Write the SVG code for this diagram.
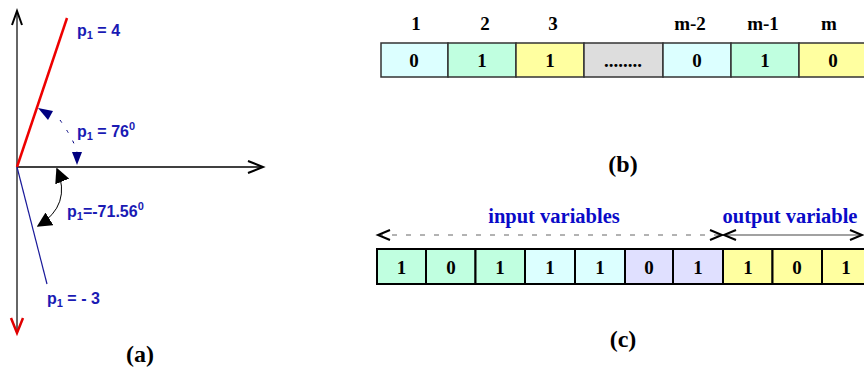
<svg xmlns="http://www.w3.org/2000/svg" width="864" height="369" viewBox="0 0 864 369">
<style>
.lbl{font-family:"Liberation Sans",Arial,sans-serif;font-weight:bold;font-size:16px;fill:#1a1ab4}
.sub{font-size:11px}
.cap{font-family:"Liberation Serif","Times New Roman",serif;font-weight:bold;font-size:24px;fill:#000;text-anchor:middle}
.num{font-family:"Liberation Serif","Times New Roman",serif;font-weight:bold;font-size:19px;fill:#000;text-anchor:middle}
.var{font-family:"Liberation Serif","Times New Roman",serif;font-weight:bold;font-size:20.5px;fill:#0a0ac8;text-anchor:middle}
.cb{stroke:#333;stroke-width:1.5}
.cc{stroke:#000;stroke-width:2}
.cyan{fill:#dcffff}.mint{fill:#c0ffe0}.yel{fill:#ffffa0}.gray{fill:#dddddd}.lav{fill:#e0e0ff}
.chev{fill:none;stroke:#000;stroke-width:2}
</style>
<defs>
<marker id="blk" viewBox="0 0 10 10" refX="9" refY="5" markerWidth="15" markerHeight="15" markerUnits="userSpaceOnUse" orient="auto-start-reverse"><path d="M0,0 L10,5 L0,10 z" fill="#000"/></marker>
</defs>

<g id="connectors">
<line x1="17" y1="12" x2="17" y2="332" stroke="#333" stroke-width="1.5"/>
<path class="chev" d="M12,25 L17,11 L22,25"/>
<path d="M11,318 L17,333 L23,318" fill="none" stroke="#e00000" stroke-width="2.5"/>
<line x1="17" y1="167" x2="263" y2="167" stroke="#000" stroke-width="1.5"/>
<path class="chev" d="M248,161 L263,167 L248,173"/>
<line x1="17" y1="167" x2="67" y2="18" stroke="#ee0000" stroke-width="2.5"/>
<line x1="17" y1="167" x2="47" y2="284" stroke="#1a1a9a" stroke-width="1.2"/>
<path d="M60,120 Q74,140 77,152" fill="none" stroke="#000080" stroke-width="1" stroke-dasharray="3,9"/>
<path d="M38,108 L53,111 L48,120 z" fill="#000080"/>
<path d="M72,152 L82,152 L77,165 z" fill="#000080"/>
<path d="M57,169 Q72,205 38,226" fill="none" stroke="#000" stroke-width="1" marker-start="url(#blk)" marker-end="url(#blk)"/>
<line x1="378" y1="235" x2="722" y2="235" stroke="#666" stroke-width="1" stroke-dasharray="5,9"/>
<path class="chev" d="M390,230 L378,235 L390,240"/>
<path class="chev" d="M710,230 L722,235 L710,240"/>
<line x1="724" y1="235" x2="862" y2="235" stroke="#444" stroke-width="1.2"/>
<path class="chev" d="M736,230 L724,235 L736,240"/>
<path class="chev" d="M850,230 L862,235 L850,240"/>
</g>

<g id="labels-a">
<text class="lbl" x="77" y="36">p<tspan class="sub" dy="3">1</tspan><tspan dy="-3"> = 4</tspan></text>
<text class="lbl" x="77" y="137">p<tspan class="sub" dy="3">1</tspan><tspan dy="-3"> = 76</tspan><tspan class="sub" dy="-7">0</tspan></text>
<text class="lbl" x="67" y="217">p<tspan class="sub" dy="3">1</tspan><tspan dy="-3">=-71.56</tspan><tspan class="sub" dy="-7">0</tspan></text>
<text class="lbl" x="47" y="304">p<tspan class="sub" dy="3">1</tspan><tspan dy="-3"> = - 3</tspan></text>
<text class="cap" x="140" y="362">(a)</text>
</g>

<g id="chromosome-b">
<g class="num">
<text x="416" y="30">1</text><text x="485" y="30">2</text><text x="553" y="30">3</text>
<text x="690" y="30">m-2</text><text x="763" y="30">m-1</text><text x="829" y="30">m</text>
</g>
<g id="b1"><rect class="cb cyan" x="381" y="43" width="67" height="34"/><text class="num" x="414" y="67">0</text></g>
<g id="b2"><rect class="cb mint" x="448" y="43" width="68" height="34"/><text class="num" x="482" y="67">1</text></g>
<g id="b3"><rect class="cb yel" x="516" y="43" width="68" height="34"/><text class="num" x="550" y="67">1</text></g>
<g id="b4"><rect class="cb gray" x="584" y="43" width="79" height="34"/><text class="num" x="623" y="67">........</text></g>
<g id="b5"><rect class="cb cyan" x="663" y="43" width="68" height="34"/><text class="num" x="697" y="67">0</text></g>
<g id="b6"><rect class="cb mint" x="731" y="43" width="68" height="34"/><text class="num" x="765" y="67">1</text></g>
<g id="b7"><rect class="cb yel" x="799" y="43" width="70" height="34"/><text class="num" x="833" y="67">0</text></g>
<text class="cap" x="623" y="172">(b)</text>
</g>

<g id="chromosome-c">
<text class="var" x="554" y="223">input variables</text>
<text class="var" x="790" y="223">output variable</text>
<g id="c1"><rect class="cc mint" x="377" y="249" width="49" height="35"/><text class="num" x="401.5" y="274">1</text></g>
<g id="c2"><rect class="cc mint" x="426" y="249" width="49.5" height="35"/><text class="num" x="451" y="274">0</text></g>
<g id="c3"><rect class="cc mint" x="475.5" y="249" width="49.5" height="35"/><text class="num" x="500" y="274">1</text></g>
<g id="c4"><rect class="cc cyan" x="525" y="249" width="50" height="35"/><text class="num" x="550" y="274">1</text></g>
<g id="c5"><rect class="cc cyan" x="575" y="249" width="50" height="35"/><text class="num" x="600" y="274">1</text></g>
<g id="c6"><rect class="cc lav" x="625" y="249" width="48" height="35"/><text class="num" x="649" y="274">0</text></g>
<g id="c7"><rect class="cc lav" x="673" y="249" width="50" height="35"/><text class="num" x="698" y="274">1</text></g>
<g id="c8"><rect class="cc yel" x="723" y="249" width="49.5" height="35"/><text class="num" x="748" y="274">1</text></g>
<g id="c9"><rect class="cc yel" x="772.5" y="249" width="49.5" height="35"/><text class="num" x="797" y="274">0</text></g>
<g id="c10"><rect class="cc yel" x="822" y="249" width="49" height="35"/><text class="num" x="846" y="274">1</text></g>
<text class="cap" x="623" y="347">(c)</text>
</g>
</svg>
